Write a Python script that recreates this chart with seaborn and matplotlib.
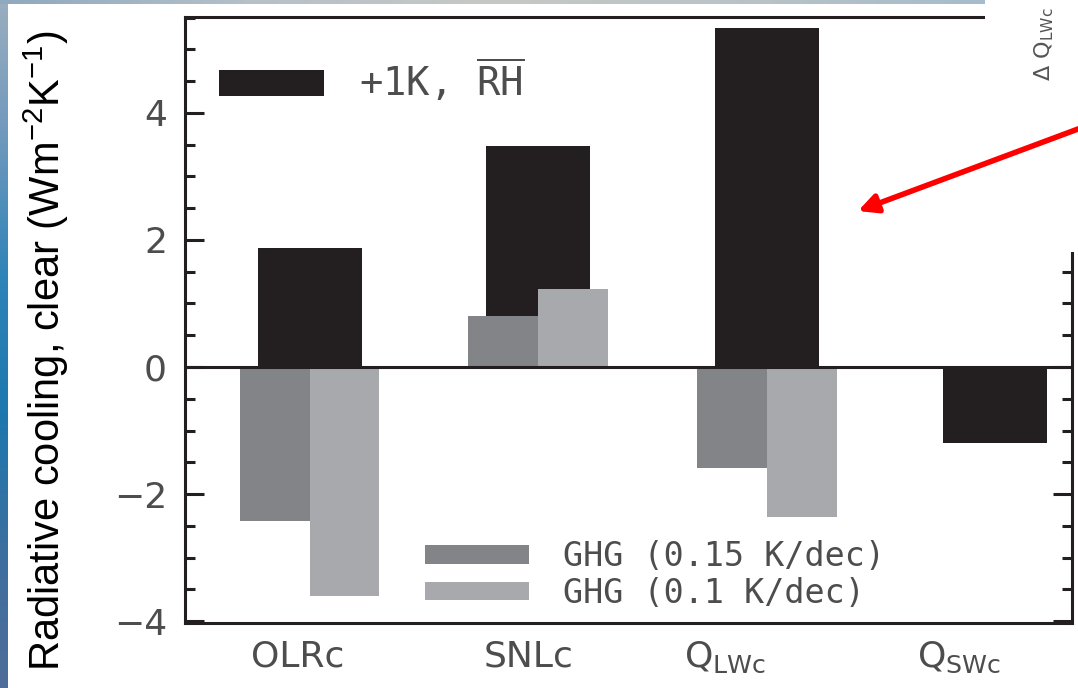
import numpy as np
import pandas as pd
import seaborn as sns
import matplotlib.pyplot as plt
from matplotlib.patches import Patch, Rectangle, FancyArrowPatch
from matplotlib.colors import LinearSegmentedColormap
from matplotlib.transforms import ScaledTranslation

# values (W m-2 K-1)
categories = ['OLRc', 'SNLc', 'QLWc', 'QSWc']
tick_labels = ['OLRc', 'SNLc', r'$\mathregular{Q_{LWc}}$', r'$\mathregular{Q_{SWc}}$']
warming_rh = [1.87, 3.48, 5.34, -1.20]
ghg_cats = ['OLRc', 'SNLc', 'QLWc']
ghg_015 = [-2.42, 0.80, -1.59]
ghg_010 = [-3.61, 1.23, -2.36]
series_names = ['GHG (0.15 K/dec)', 'GHG (0.1 K/dec)']
warming_name = r'+1K, $\mathregular{\overline{RH}}$'

c_black = '#231f20'
c_dark = '#838487'
c_light = '#a8a9ac'
c_text = '#4d4d4d'

sns.set_style('white')
plt.rcParams['font.family'] = ['DejaVu Sans']

W, H = 1078, 688
fig = plt.figure(figsize=(W / 100, H / 100), dpi=100)
fig.patch.set_facecolor('white')

# slide background strips (left and top)
left_cmap = LinearSegmentedColormap.from_list(
    'left', ['#9aaebf', '#6f98bd', '#2f84b8', '#1c78ae', '#3c6fa0', '#4f6d98'])
top_cmap = LinearSegmentedColormap.from_list(
    'top', ['#8fa9bf', '#b5c0c8', '#c6c8c4', '#b9c3c6', '#a6bccb'])
lax = fig.add_axes([0, 0, 8 / W, 1])
lax.imshow(np.linspace(0, 1, 256).reshape(-1, 1), aspect='auto', cmap=left_cmap)
lax.axis('off')
tax = fig.add_axes([0, 1 - 4 / H, 985 / W, 4 / H])
tax.imshow(np.linspace(0, 1, 256).reshape(1, -1), aspect='auto', cmap=top_cmap)
tax.axis('off')

ax = fig.add_axes([185 / W, (H - 623) / H, 887 / W, 606 / H])
ax.set_facecolor('white')

black_df = pd.DataFrame({'cat': categories, 'val': warming_rh})
gray_df = pd.DataFrame({
    'cat': ghg_cats * 2,
    'val': ghg_015 + ghg_010,
    'run': [series_names[0]] * len(ghg_cats) + [series_names[1]] * len(ghg_cats),
})

sns.barplot(data=black_df, x='cat', y='val', order=categories, color=c_black,
            width=0.455, saturation=1, errorbar=None, linewidth=0, ax=ax)
sns.barplot(data=gray_df, x='cat', y='val', hue='run', order=categories,
            hue_order=series_names, palette=[c_dark, c_light], width=0.61, gap=0,
            saturation=1, errorbar=None, linewidth=0, legend=False, ax=ax)

ax.axhline(0, color=c_black, lw=2.2, zorder=3)

ax.set_xlim(-0.545, 3.335)
ax.set_ylim(-4.03, 5.51)
ax.set_yticks([-4, -2, 0, 2, 4])
ax.set_yticks(np.arange(-4, 5.6, 0.5), minor=True)
ax.set_xticks(range(len(categories)))
ax.set_xticklabels(tick_labels)
ax.set_xlabel('')

for s in ax.spines.values():
    s.set_visible(True)
    s.set_color(c_black)
    s.set_linewidth(2.2)

ax.tick_params(axis='y', which='both', direction='in', left=True, right=True,
               color=c_black, width=2.2, labelsize=26, labelcolor=c_text, pad=13)
ax.tick_params(axis='y', which='major', length=14)
ax.tick_params(axis='y', which='minor', length=7.5)
ax.tick_params(axis='x', which='both', length=0, labelsize=26, labelcolor=c_text, pad=12)
# labels in the original sit a little left of their bars
label_shift_px = [-12, -10, -42, -36]
for lab, dx in zip(ax.get_xticklabels(), label_shift_px):
    lab.set_transform(lab.get_transform() + ScaledTranslation(dx / 100, 0, fig.dpi_scale_trans))

ax.set_ylabel(r'Radiative cooling, clear (Wm$^{\mathregular{-2}}$K$^{\mathregular{-1}}$)',
              fontsize=30, family='Liberation Sans', color='black')
ax.yaxis.set_label_coords(-0.128, 0.449)

# legends
leg1 = ax.legend(handles=[Patch(facecolor=c_black, edgecolor='none', label=warming_name)],
                 loc='center left', bbox_to_anchor=(0.038, 0.895), frameon=False,
                 borderpad=0, borderaxespad=0, handlelength=2.72, handleheight=0.64,
                 handletextpad=0.9, labelcolor=c_text,
                 prop={'family': 'DejaVu Sans Mono', 'size': 28})
ax.add_artist(leg1)
ax.legend(handles=[Patch(facecolor=c_dark, edgecolor='none', label=series_names[0]),
                   Patch(facecolor=c_light, edgecolor='none', label=series_names[1])],
          loc='center left', bbox_to_anchor=(0.2706, 0.079), frameon=False,
          borderpad=0, borderaxespad=0, handlelength=3.12, handleheight=0.48,
          handletextpad=1.03, labelspacing=0.1, labelcolor=c_text,
          prop={'family': 'DejaVu Sans Mono', 'size': 24})

# overlapping panel in the top right corner of the slide
fig.add_artist(Rectangle((985 / W, 1 - 252 / H), 93 / W, 252 / H, transform=fig.transFigure,
                         facecolor='white', edgecolor='none', zorder=2))
fig.text(1044 / W, 1 - 44 / H, r'$\Delta$ Q$_{\mathregular{LWc}}$', rotation=90,
         ha='center', va='center', fontsize=16, color='#555555', zorder=4)
fig.add_artist(FancyArrowPatch((1.005, 1 - 127 / H), (858 / W, 1 - 211 / H),
                               transform=fig.transFigure, arrowstyle='-|>',
                               mutation_scale=28, lw=4, color='#ff0000',
                               shrinkA=0, shrinkB=0, zorder=5))

fig.savefig('out.png', dpi=100)
